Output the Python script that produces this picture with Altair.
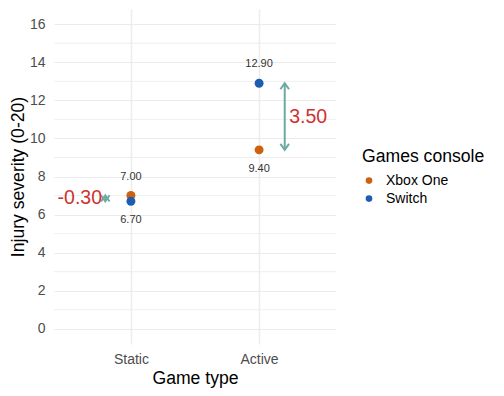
import altair as alt
import pandas as pd

# ---- data ----
game_types = ["Static", "Active"]
consoles = ["Xbox One", "Switch"]
xbox_values = [7.00, 9.40]
switch_values = [6.70, 12.90]
console_colors = ["#CC6210", "#1C5DB3"]
y_ticks = [0, 2, 4, 6, 8, 10, 12, 14, 16]
y_minor = [1, 3, 5, 7, 9, 11, 13, 15]
arrow_side = [-1, 1]  # static arrow on the left, active arrow on the right

FONT = "Liberation Sans"
ARROW_COLOR = "#6FA8A3"
DIFF_COLOR = "#CC3333"

positions = [i + 1 for i in range(len(game_types))]

point_rows, label_rows, arrow_rows, diff_rows = [], [], [], []
for i, g in enumerate(game_types):
    pair = [xbox_values[i], switch_values[i]]
    hi, lo = max(pair), min(pair)
    for c, v in zip(consoles, pair):
        point_rows.append({"pos": positions[i], "game": g, "console": c, "value": v})
        label_rows.append({"pos": positions[i], "txt": f"{v:.2f}",
                           "ly": v + 1.0 if v == hi else v - 1.0})
    ax = positions[i] + arrow_side[i] * 0.2
    arrow_rows.append({"ax": ax, "top": hi, "bot": lo})
    diff = switch_values[i] - xbox_values[i]
    diff_rows.append({"dx": positions[i] + arrow_side[i] * (0.225 if arrow_side[i] < 0 else 0.235),
                      "dy": (hi + lo) / 2, "txt": f"{diff:.2f}",
                      "side": "left" if arrow_side[i] > 0 else "right"})

points = pd.DataFrame(point_rows)
labels = pd.DataFrame(label_rows)
arrows = pd.DataFrame(arrow_rows)
diffs = pd.DataFrame(diff_rows)
minor = pd.DataFrame({"y": y_minor})

label_expr = " : ".join(
    [f"datum.value == {p} ? '{g}'" for p, g in zip(positions, game_types)] + ["''"]
)

xscale = alt.Scale(domain=[0.4, 2.6], nice=False, zero=False)
yscale = alt.Scale(domain=[-0.8, 16.8], nice=False, zero=False)
xaxis = alt.Axis(values=positions, labelExpr=label_expr, title="Game type",
                 grid=True, gridWidth=1.6, gridColor="#EDEDED",
                 labelPadding=8, titlePadding=3)
yaxis = alt.Axis(values=y_ticks, title="Injury severity (0-20)", grid=True,
                 gridWidth=1.1, labelPadding=9, titlePadding=2)


def X(field):
    return alt.X(f"{field}:Q", scale=xscale, axis=xaxis, title="Game type")


def Y(field):
    return alt.Y(f"{field}:Q", scale=yscale, axis=yaxis, title="Injury severity (0-20)")


minor_layer = alt.Chart(minor).mark_rule(color="#EBEBEB", strokeWidth=0.8).encode(y=Y("y"))

arrow_line = alt.Chart(arrows).mark_rule(color=ARROW_COLOR, strokeWidth=2).encode(
    x=X("ax"), y=Y("top"), y2="bot"
)
arrow_top = alt.Chart(arrows).mark_point(
    shape="M -4.3 6 L 0 0 L 4.3 6", size=4, filled=False, strokeWidth=2,
    color=ARROW_COLOR, opacity=1
).encode(x=X("ax"), y=Y("top"))
arrow_bot = alt.Chart(arrows).mark_point(
    shape="M -4.3 -6 L 0 0 L 4.3 -6", size=4, filled=False, strokeWidth=2,
    color=ARROW_COLOR, opacity=1
).encode(x=X("ax"), y=Y("bot"))

diff_left = alt.Chart(diffs).transform_filter("datum.side == 'right'").mark_text(
    align="right", baseline="middle", font=FONT, fontSize=19.5, color=DIFF_COLOR
).encode(x=X("dx"), y=Y("dy"), text="txt:N")
diff_right = alt.Chart(diffs).transform_filter("datum.side == 'left'").mark_text(
    align="left", baseline="middle", font=FONT, fontSize=19.5, color=DIFF_COLOR
).encode(x=X("dx"), y=Y("dy"), text="txt:N")

value_labels = alt.Chart(labels).mark_text(
    align="center", baseline="middle", font=FONT, fontSize=11, color="#333333"
).encode(x=X("pos"), y=Y("ly"), text="txt:N")

point_layer = alt.Chart(points).mark_circle(size=80, opacity=1).encode(
    x=X("pos"), y=Y("value"),
    color=alt.Color(
        "console:N",
        scale=alt.Scale(domain=consoles, range=console_colors),
        sort=consoles,
        legend=alt.Legend(
            title="Games console", orient="none", legendX=308, legendY=139,
            titleFont=FONT, titleFontSize=17.6, titleFontWeight="normal",
            titleColor="black", labelFont=FONT, labelFontSize=14, labelColor="black",
            symbolType="circle", symbolSize=44, symbolStrokeWidth=0,
            titlePadding=8, rowPadding=4, labelOffset=10, symbolOffset=0,
        ),
    ),
    order=alt.Order("order:Q"),
).transform_calculate(order=f"indexof({consoles!r}, datum.console)")

chart = alt.layer(
    minor_layer, arrow_line, arrow_top, arrow_bot, diff_left, diff_right,
    value_labels, point_layer
).properties(
    width=282, height=335,
    autosize=alt.AutoSizeParams(type="none"),
    padding={"left": 46, "top": 1, "right": 160, "bottom": 44},
).configure_view(stroke=None).configure_axis(
    domain=False, ticks=False, tickSize=0,
    labelFont=FONT, titleFont=FONT, labelFontSize=14, labelColor="#4D4D4D",
    titleFontSize=17.6, titleFontWeight="normal", titleColor="black",
    gridColor="#EBEBEB",
)

chart.save("out.html", embed_options={"renderer": "svg", "actions": False})
